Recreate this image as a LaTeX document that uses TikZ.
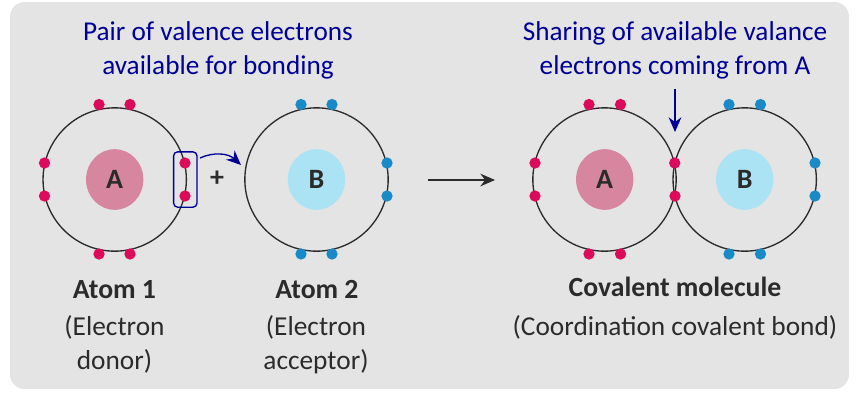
\documentclass[tikz,border=0pt]{standalone}
\usepackage{fontspec}
\setmainfont{Carlito}
\usetikzlibrary{arrows.meta,shapes.geometric}
\definecolor{panelgrey}{HTML}{E4E4E4}
\definecolor{nucleusA}{HTML}{D6869F}
\definecolor{nucleusB}{HTML}{ABE3F4}
\definecolor{redelectron}{HTML}{DC0A5A}
\definecolor{blueelectron}{HTML}{1A8AC6}
\definecolor{navy}{HTML}{000099}
\definecolor{inkgrey}{HTML}{2B2B2B}
\tikzstyle{orbit} = [circle, draw=inkgrey, line width=1pt, minimum size=107.5pt, inner sep=0pt, outer sep=0pt]
\tikzstyle{nucleus} = [ellipse, minimum width=43pt, minimum height=45.5pt, inner sep=0pt, text=inkgrey, font=\fontsize{21}{24}\selectfont\bfseries]
\tikzstyle{eA} = [circle, fill=redelectron, minimum size=8.5pt, inner sep=0pt]
\tikzstyle{eB} = [circle, fill=blueelectron, minimum size=8.5pt, inner sep=0pt]
\tikzstyle{heading} = [text=navy, align=center, font=\fontsize{20.4}{25.5}\selectfont]
\tikzstyle{caption} = [text=inkgrey, anchor=base, font=\fontsize{20.5}{24}\selectfont]
\tikzstyle{title} = [text=inkgrey, anchor=base, font=\fontsize{20.8}{24}\selectfont\bfseries]
\tikzstyle{line} = [draw, -{Stealth[length=11pt,width=9.5pt]}]

\begin{document}
\begin{tikzpicture}[x=0.75pt, y=-0.75pt]
    \useasboundingbox (0,0) rectangle (867,408);
    \fill [panelgrey, rounded corners=11pt] (10,2) rectangle (849,389);

    \node [heading] (pairText) at (218,50.5) {Pair of valence electrons\\available for bonding};
    \node [heading] (sharingText) at (675,50.5) {Sharing of available valance\\electrons coming from A};

    % left atom
    \node [orbit] (atomOne) at (114.7,179.5) {};
    \node [nucleus, fill=nucleusA] (nucOne) at (114.7,179.5) {A};
    \node [eA] (oneT1) at (99,104.5) {};
    \node [eA] (oneT2) at (130,104.5) {};
    \node [eA] (oneL1) at (44.5,163) {};
    \node [eA] (oneL2) at (44.5,196) {};
    \node [eA] (oneR1) at (185,163) {};
    \node [eA] (oneR2) at (185,196) {};
    \node [eA] (oneB1) at (99,254) {};
    \node [eA] (oneB2) at (130,254) {};
    \node [draw=navy, line width=1pt, rounded corners=3pt, minimum width=17.5pt, minimum height=41.5pt, inner sep=0pt] (pairBox) at (185.3,179.5) {};

    % right atom
    \node [orbit] (atomTwo) at (316.5,179.5) {};
    \node [nucleus, fill=nucleusB] (nucTwo) at (316.5,179.5) {B};
    \node [eB] (twoT1) at (301,104.5) {};
    \node [eB] (twoT2) at (332,104.5) {};
    \node [eB] (twoR1) at (387,163) {};
    \node [eB] (twoR2) at (387,196) {};
    \node [eB] (twoB1) at (301,254) {};
    \node [eB] (twoB2) at (332,254) {};

    \node [text=inkgrey, font=\fontsize{21}{24}\selectfont\bfseries] (plus) at (217,179) {+};

    % molecule
    \node [orbit] (molA) at (604.5,179.5) {};
    \node [orbit] (molB) at (744.7,179.5) {};
    \node [nucleus, fill=nucleusA] (nucMolA) at (604.7,179.5) {A};
    \node [nucleus, fill=nucleusB] (nucMolB) at (744.7,179.5) {B};
    \node [eA] (molAT1) at (589,104.5) {};
    \node [eA] (molAT2) at (620.5,104.5) {};
    \node [eA] (molAL1) at (535,163) {};
    \node [eA] (molAL2) at (535,196) {};
    \node [eA] (molAR1) at (674.7,163) {};
    \node [eA] (molAR2) at (675,196) {};
    \node [eA] (molAB1) at (589,254) {};
    \node [eA] (molAB2) at (620.5,254) {};
    \node [eB] (molBT1) at (729,104.5) {};
    \node [eB] (molBT2) at (760.5,104.5) {};
    \node [eB] (molBR1) at (815,163) {};
    \node [eB] (molBR2) at (815,196) {};
    \node [eB] (molBB1) at (729,254) {};
    \node [eB] (molBB2) at (760.5,254) {};

    \node [title] (atomOneName) at (114.5,298) {Atom 1};
    \node [caption] (atomOneA) at (114.5,335) {(Electron};
    \node [caption] (atomOneB) at (114.5,369) {donor)};
    \node [title] (atomTwoName) at (317,298) {Atom 2};
    \node [caption] (atomTwoA) at (316,335) {(Electron};
    \node [caption] (atomTwoB) at (316,369) {acceptor)};
    \node [title] (molName) at (675,296) {Covalent molecule};
    \node [caption] (molDesc) at (675,335) {(Coordination covalent bond)};

    \coordinate (reactL) at (428,180);
    \coordinate (reactR) at (495,180);
    \coordinate (shareTop) at (675,89);
    \coordinate (shareEnd) at (675,132);
    \coordinate (curveStart) at (200,158);
    \coordinate (curveEnd) at (241,165);
    \path [line, inkgrey, line width=1pt] (reactL) -- (reactR);
    \path [line, navy, line width=1pt] (shareTop) -- (shareEnd);
    \path [line, navy, line width=1pt] (curveStart) .. controls (213,152) and (228,153) .. (curveEnd);
\end{tikzpicture}
\end{document}
